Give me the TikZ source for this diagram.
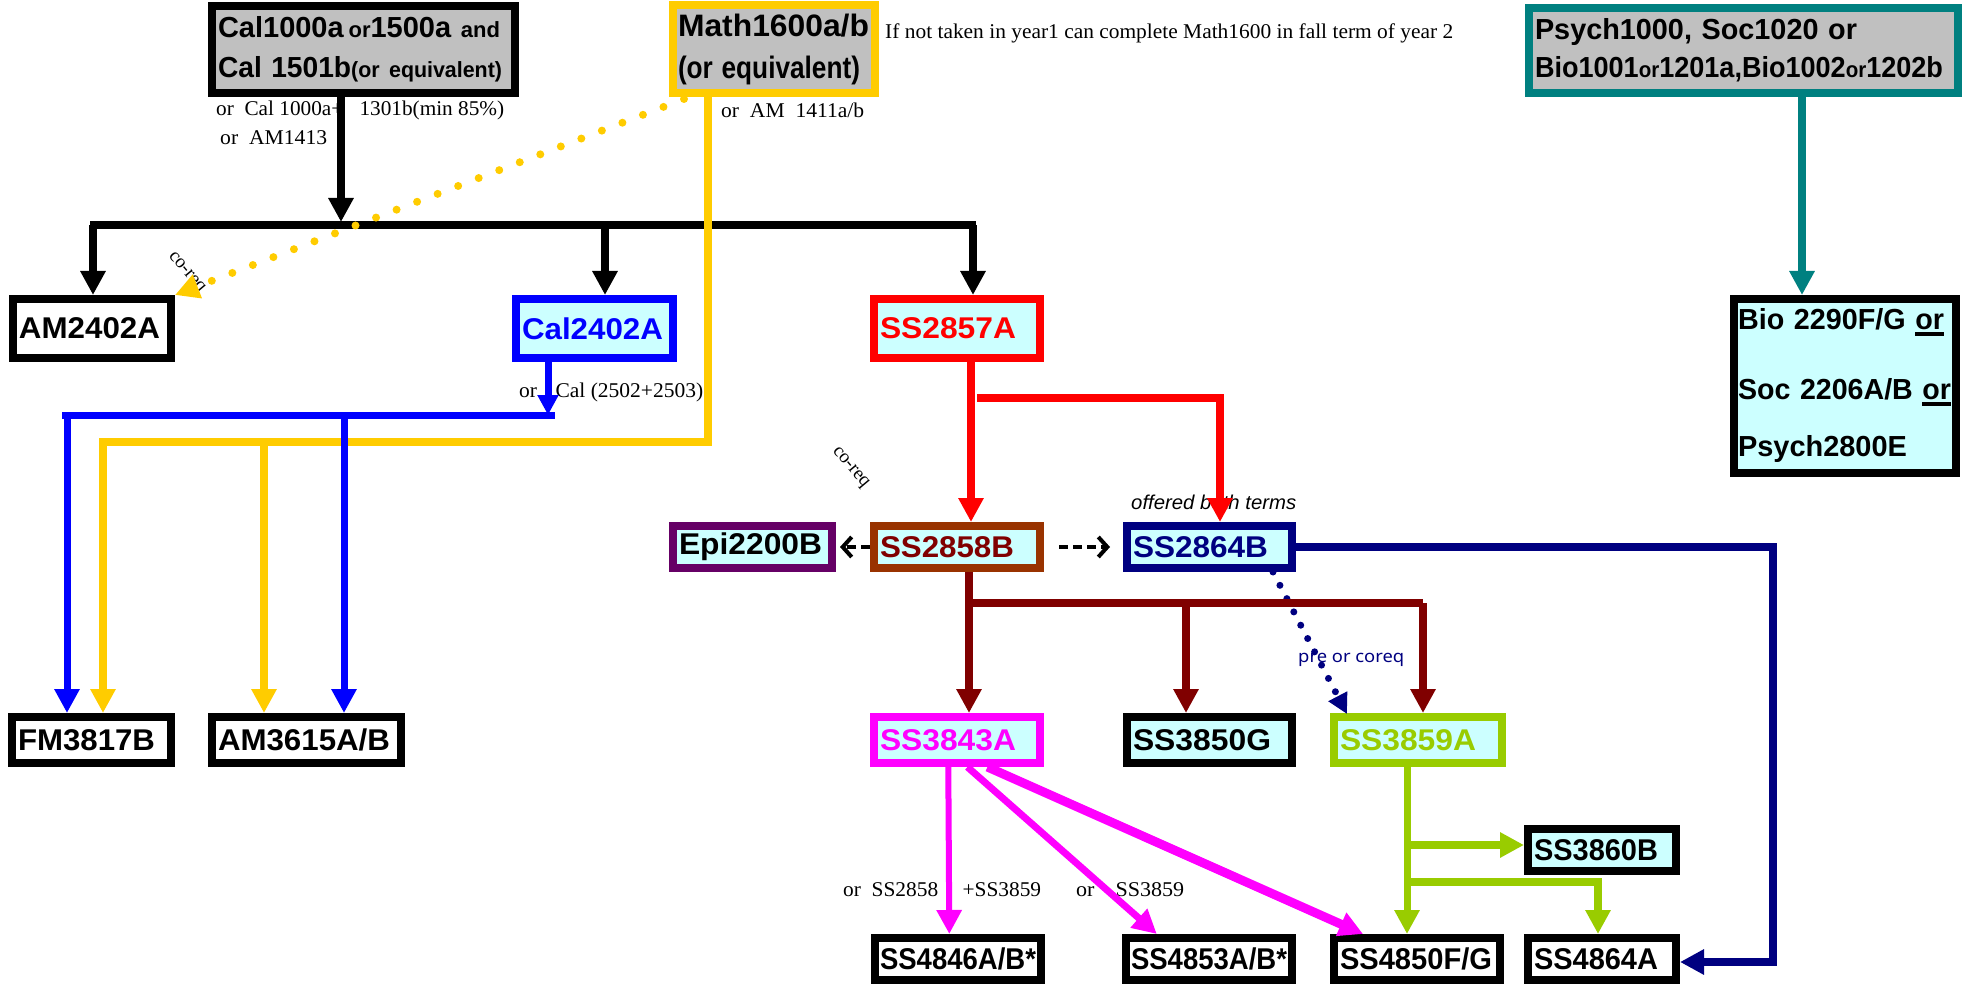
\documentclass[tikz,border=0pt]{standalone}
\usepackage{fontspec}
\usepackage{graphicx}
\setmainfont{Liberation Serif}
\newfontfamily\hv{Liberation Sans}
\newfontfamily\nsans{Noto Sans}
\usetikzlibrary{arrows.meta,calc}
\newcommand{\fw}[2]{\resizebox{#1}{\height}{#2}}
\newcommand{\smo}[1]{{\fontsize{22}{26}\selectfont #1}}
\newcommand{\ulor}{\setbox0\hbox{or}\rlap{\rule[-6pt]{\wd0}{4pt}}\box0}
\definecolor{gfill}{HTML}{C0C0C0}
\definecolor{cfill}{HTML}{CCFFFF}
\definecolor{yelc}{HTML}{FFCC00}
\definecolor{tealc}{HTML}{008080}
\definecolor{bluec}{HTML}{0000FF}
\definecolor{redc}{HTML}{FF0000}
\definecolor{brnb}{HTML}{993300}
\definecolor{drk}{HTML}{800000}
\definecolor{purp}{HTML}{660066}
\definecolor{navc}{HTML}{000080}
\definecolor{magc}{HTML}{FF00FF}
\definecolor{grnc}{HTML}{99CC00}
\tikzset{
  bx/.style={draw, line width=8pt, inner xsep=6pt, inner ysep=0pt, align=left,
    font=\hv\bfseries\fontsize{30}{36}\selectfont},
  wbx/.style={bx, fill=white, draw=black},
  cbx/.style={bx, fill=cfill},
  gbx/.style={bx, fill=gfill},
  tp/.style={-{Triangle[length=24pt,width=24pt]}},
  ln/.style={line width=8pt},
  ann/.style={font=\fontsize{21}{24}\selectfont, inner sep=0pt, anchor=west},
  crq/.style={font=\fontsize{19}{22}\selectfont, inner sep=0pt},
  dsh/.style={line width=4pt, dash pattern=on 9pt off 5pt, -{Straight Barb[length=9pt,width=20pt]}},
}
\begin{document}
\begin{tikzpicture}[x=1pt,y=-1pt]
\useasboundingbox (0,0) rectangle (1965,984);
% ---------- boxes ----------
\node[gbx, draw=black, text width=291pt, minimum height=87pt, font=\hv\bfseries\fontsize{29}{40}\selectfont] (cal) at (363.5,49.5)
  {\fw{282pt}{Cal1000a\,\smo{or}1500a \smo{and}}\\ \fw{284pt}{Cal 1501b\smo{(or equivalent)}}};
\node[gbx, draw=yelc, text width=192pt, inner xsep=5pt, minimum height=88pt, font=\hv\bfseries\fontsize{31}{42}\selectfont] (math) at (774,49)
  {\fw{191pt}{Math1600a/b}\\ \fw{182pt}{(or equivalent)}};
\node[gbx, draw=tealc, text width=417pt, minimum height=85pt, font=\hv\bfseries\fontsize{29}{38}\selectfont] (psych) at (1743.5,50.5)
  {\fw{322pt}{Psych1000, Soc1020 or}\\ \fw{408pt}{Bio1001\smo{or}1201a,Bio1002\smo{or}1202b}};

\node[wbx, text width=146pt, minimum height=59pt] (am2402) at (92,328.5) {\fw{141pt}{AM2402A}};
\node[cbx, draw=bluec, text=bluec, text width=145pt, minimum height=59pt] (cal2402) at (594.5,328.5) {\fw{141pt}{Cal2402A}};
\node[cbx, draw=redc, text=redc, text width=154pt, minimum height=59pt] (ss2857) at (957,328.5) {\fw{136pt}{SS2857A}};
\node[cbx, draw=black, text width=214pt, inner xsep=4pt, minimum height=174pt, font=\hv\bfseries\fontsize{29}{57}\selectfont] (bio) at (1845,386)
  {\fw{206pt}{Bio 2290F/G \ulor}\\[13pt] \fw{213pt}{Soc 2206A/B \ulor}\\ \fw{169pt}{Psych2800E}};

\node[cbx, draw=purp, text width=147pt, minimum height=42pt] (epi) at (752.5,547) {\fw{143pt}{Epi2200B}};
\node[cbx, draw=brnb, text=drk, text width=154pt, minimum height=42pt] (ss2858) at (957,547) {\fw{134pt}{SS2858B}};
\node[cbx, draw=navc, text=navc, text width=153pt, minimum height=42pt] (ss2864) at (1209.5,547) {\fw{135pt}{SS2864B}};

\node[wbx, text width=147pt, minimum height=46pt] (fm3817) at (91.5,740) {\fw{137pt}{FM3817B}};
\node[wbx, text width=177pt, minimum height=46pt] (am3615) at (306.5,740) {\fw{172pt}{AM3615A/B}};
\node[cbx, draw=magc, text=magc, text width=154pt, minimum height=46pt] (ss3843) at (957,740) {\fw{136pt}{SS3843A}};
\node[cbx, draw=black, text width=153pt, minimum height=46pt] (ss3850) at (1209.5,740) {\fw{138pt}{SS3850G}};
\node[cbx, draw=grnc, text=grnc, text width=156pt, minimum height=46pt] (ss3859) at (1418,740) {\fw{136pt}{SS3859A}};
\node[cbx, draw=black, text width=136pt, minimum height=42pt] (ss3860) at (1602,850) {\fw{124pt}{SS3860B}};

\node[wbx, text width=156pt, inner xsep=5pt, minimum height=42pt] (ss4846) at (958,959) {\fw{156pt}{SS4846A/B*}};
\node[wbx, text width=156pt, inner xsep=5pt, minimum height=42pt] (ss4853) at (1209,959) {\fw{156pt}{SS4853A/B*}};
\node[wbx, text width=154pt, minimum height=42pt] (ss4850) at (1417,959) {\fw{152pt}{SS4850F/G}};
\node[wbx, text width=136pt, minimum height=42pt] (ss4864) at (1602,959) {\fw{124pt}{SS4864A}};

% ---------- annotations ----------
\node[ann] (note) at (885,33) {\fw{568pt}{If not taken in year1 can complete Math1600 in fall term of year 2}};
\node[ann] (calor) at (216,110) {\fw{288pt}{or\ \ Cal 1000a+\hspace{16pt}1301b(min 85\%)}};
\node[ann] (calam) at (220,138) {\fw{107pt}{or\ \ AM1413}};
\node[ann] (mathor) at (721,110) {\fw{143pt}{or\ \ AM\ \ 1411a/b}};
\node[ann] (c24or) at (519,392) {\fw{184pt}{or\hspace{18pt}Cal (2502+2503)}};
\node[ann] (or46) at (843,890) {\fw{198pt}{or\ \ SS2858\hspace{24pt}+SS3859}};
\node[ann] (or53) at (1076,890) {\fw{108pt}{or\hspace{20pt}SS3859}};
\node[crq] (coreqa) at (186,273) {\rotatebox{-50}{co-req}};
\node[crq] (coreqb) at (850,468) {\rotatebox{-50}{co-req}};
\node[font=\hv\itshape\fontsize{20}{24}\selectfont, inner sep=0pt, anchor=west] (both) at (1131,502) {\fw{165pt}{offered both terms}};
\node[font=\nsans\fontsize{17}{20}\selectfont, text=navc, inner sep=0pt, anchor=west] (preco) at (1298,660) {\fw{106pt}{pre or coreq}};

% ---------- coordinates ----------
\coordinate (jc) at (341,222);
\coordinate (bL) at (90,225);
\coordinate (bR) at (976,225);
\coordinate (j1) at (93,225);
\coordinate (j2) at (605,225);
\coordinate (j3) at (973,225);
\coordinate (yc) at (708,442);
\coordinate (yl) at (103,442);
\coordinate (yb) at (264,442);
\coordinate (yd) at (684,99);
\coordinate (bc) at (548,415);
\coordinate (bl) at (62,415);
\coordinate (br) at (555,415);
\coordinate (b1) at (67,419);
\coordinate (b2) at (344,419);
\coordinate (r0) at (971,0);
\coordinate (r1) at (977,398);
\coordinate (r2) at (1220,398);
\coordinate (n1) at (1773,547);
\coordinate (n2) at (1773,962);
\coordinate (nd0) at (1273,0);
\coordinate (nd1) at (1347,714);
\coordinate (k0) at (969,0);
\coordinate (k1) at (969,603);
\coordinate (k2) at (1186,603);
\coordinate (k3) at (1423,603);
\coordinate (g0) at (1407,0);
\coordinate (g1) at (1407,845);
\coordinate (g2) at (1407,882);
\coordinate (g3) at (1598,882);
\coordinate (t0) at (1802,0);

% ---------- black ----------
\draw[ln, black, tp] (jc |- cal.south) -- (jc);
\draw[ln, black] (bL) -- (bR);
\draw[ln, black, tp] (j1) -- (j1 |- am2402.north);
\draw[ln, black, tp] (j2) -- (j2 |- cal2402.north);
\draw[ln, black, tp] (j3) -- (j3 |- ss2857.north);
% ---------- yellow ----------
\draw[ln, yelc, tp] (math.south -| yc) -- (yc) -- (yl) -- (yl |- fm3817.north);
\draw[ln, yelc, tp] (yb) -- (yb |- am3615.north);
\draw[yelc, line width=8pt, line cap=round, dash pattern=on 0pt off 22pt, tp] (yd) -- (am2402.north east);
% ---------- blue ----------
\draw[line width=7pt, bluec] (bl) -- (br);
\draw[line width=7pt, bluec, -{Triangle[length=20pt,width=20pt]}] (cal2402.south -| bc) -- (bc);
\draw[line width=7pt, bluec, tp] (b1) -- (b1 |- fm3817.north);
\draw[line width=7pt, bluec, tp] (b2) -- (b2 |- am3615.north);
% ---------- red ----------
\draw[ln, redc, tp] (ss2857.south -| r0) -- (ss2858.north -| r0);
\draw[ln, redc, tp] (r1) -- (r2) -- (r2 |- ss2864.north);
% ---------- dashed ----------
\draw[dsh, shorten >=4pt] (ss2858.west) -- (epi.east);
\draw[dsh, shorten <=15pt, shorten >=13pt] (ss2858.east) -- (ss2864.west);
% ---------- navy ----------
\draw[ln, navc, tp] (ss2864.east) -- (n1) -- (n2) -- (n2 -| ss4864.east);
\draw[navc, line width=7pt, line cap=round, dash pattern=on 0pt off 15pt, -{Triangle[length=20pt,width=20pt]}] (ss2864.south -| nd0) -- (nd1);
% ---------- brown ----------
\draw[ln, drk, tp] (ss2858.south -| k0) -- (ss3843.north -| k0);
\draw[ln, drk] (k1) -- (k3);
\draw[ln, drk, tp] (k2) -- (k2 |- ss3850.north);
\draw[ln, drk, tp] (k3) -- (k3 |- ss3859.north);
% ---------- magenta ----------
\draw[line width=6pt, magc, tp] ($(ss3843.south west)!0.45!(ss3843.south east)$) -- ($(ss4846.north west)!0.45!(ss4846.north east)$);
\draw[line width=7pt, magc, tp] ($(ss3843.south west)!0.56!(ss3843.south east)$) -- ($(ss4853.north west)!0.2!(ss4853.north east)$);
\draw[line width=9pt, magc, tp] ($(ss3843.south west)!0.675!(ss3843.south east)$) -- ($(ss4850.north west)!0.19!(ss4850.north east)$);
% ---------- green ----------
\draw[line width=7pt, grnc, tp] (ss3859.south -| g0) -- (ss4850.north -| g0);
\draw[ln, grnc, tp] (g1) -- (g1 -| ss3860.west);
\draw[ln, grnc, tp] (g2) -- (g3) -- (g3 |- ss4864.north);
% ---------- teal ----------
\draw[ln, tealc, tp] (psych.south -| t0) -- (bio.north -| t0);
\end{tikzpicture}
\end{document}
